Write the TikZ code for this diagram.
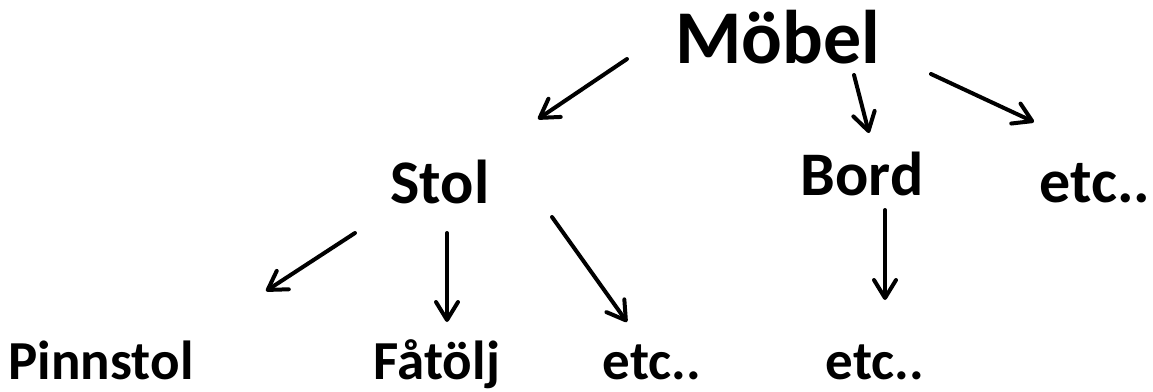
\documentclass[tikz,border=0pt]{standalone}
\usepackage{fontspec}
\setmainfont{Carlito}
\usetikzlibrary{arrows.meta}
\tikzset{
  lbl/.style={inner sep=0pt, anchor=base, font=\bfseries\fontsize{62}{70}\selectfont},
  toplbl/.style={lbl, font=\bfseries\fontsize{76}{84}\selectfont},
  lowlbl/.style={lbl, font=\bfseries\fontsize{55}{62}\selectfont},
  arr/.style={line width=4pt, line cap=round, line join=round,
    -{Straight Barb[length=18pt, width=22pt, line cap=round, line join=round]}}
}
\begin{document}
\begin{tikzpicture}[x=1pt, y=1pt]
\useasboundingbox (0,0) rectangle (1153,-391);
\node[toplbl] (moebel) at (778,-63) {Möbel};
\node[lbl] (stol) at (440,-203) {Stol};
\node[lbl] (bord) at (862,-195) {Bord};
\node[lbl] (etcA) at (1095,-202) {etc..};
\node[lowlbl] (pinn) at (101,-379) {Pinnstol};
\node[lowlbl] (fat) at (437,-379) {Fåtölj};
\node[lowlbl] (etcB) at (652,-379) {etc..};
\node[lowlbl] (etcC) at (875,-379) {etc..};
\draw[arr] ([shift={(-151,4)}]moebel.base) -- ([shift={(98,84)}]stol.base);
\draw[arr] ([shift={(76,-12)}]moebel.base) -- ([shift={(7,62)}]bord.base);
\draw[arr] ([shift={(153,-11)}]moebel.base) -- ([shift={(-61,80)}]etcA.base);
\draw[arr] ([shift={(-85,-30)}]stol.base) -- ([shift={(165,88)}]pinn.base);
\draw[arr] ([shift={(7,-30)}]stol.base) -- ([shift={(10,57)}]fat.base);
\draw[arr] ([shift={(112,-14)}]stol.base) -- ([shift={(-25,57)}]etcB.base);
\draw[arr] ([shift={(23,-15)}]bord.base) -- ([shift={(10,79)}]etcC.base);
\end{tikzpicture}
\end{document}
